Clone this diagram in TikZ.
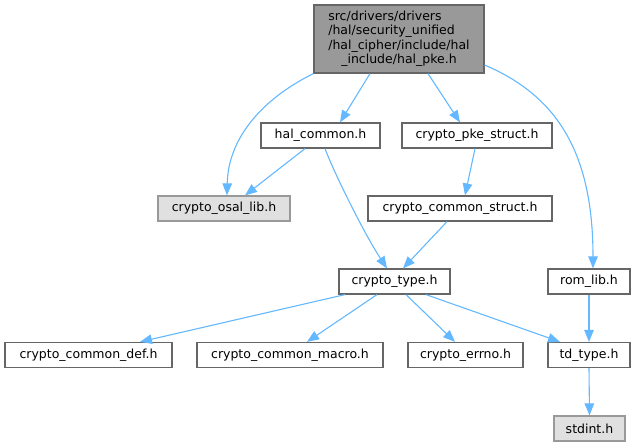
\documentclass[tikz,border=0pt]{standalone}
\usepackage{fontspec}
\setmainfont{DejaVu Sans}
\usetikzlibrary{arrows.meta}
\definecolor{edgeblue}{HTML}{63B8FF}
\definecolor{boxborder}{HTML}{666666}
\definecolor{topfill}{HTML}{999999}
\definecolor{grayfill}{HTML}{E0E0E0}
\definecolor{grayborder}{HTML}{999999}
\begin{document}
\begin{tikzpicture}[x=1pt,y=-1pt,
  filebox/.style={draw=boxborder,fill=white,line width=1.2pt,inner sep=0pt,
    font=\fontsize{12.5}{14.5}\selectfont,anchor=center},
  extbox/.style={filebox,draw=grayborder,fill=grayfill},
  topbox/.style={filebox,fill=topfill},
  dep/.style={draw=edgeblue,line width=1.1pt,-{Triangle[length=12pt,width=9.5pt]}}]
\useasboundingbox (0,0) rectangle (637,447);

\node[topbox,minimum width=170pt,minimum height=68pt] (top) at (399,39)
  {\begin{tabular}{@{}l@{}}src/drivers/drivers\\/hal/security\_unified\\/hal\_cipher/include/hal\\\multicolumn{1}{@{}c@{}}{\_include/hal\_pke.h}\end{tabular}};

\node[filebox,minimum width=119pt,minimum height=25pt] (hal) at (320.5,135.5) {hal\_common.h};
\node[filebox,minimum width=150pt,minimum height=25pt] (pke) at (477,135.5) {crypto\_pke\_struct.h};
\node[extbox,minimum width=132pt,minimum height=25pt] (osal) at (224,208.5) {crypto\_osal\_lib.h};
\node[filebox,minimum width=184pt,minimum height=25pt] (cstruct) at (460,208.5) {crypto\_common\_struct.h};
\node[filebox,minimum width=111pt,minimum height=25pt] (type) at (394.5,281.5) {crypto\_type.h};
\node[filebox,minimum width=82pt,minimum height=25pt] (rom) at (589,281.5) {rom\_lib.h};
\node[filebox,minimum width=167pt,minimum height=25pt] (def) at (88.5,355) {crypto\_common\_def.h};
\node[filebox,minimum width=186pt,minimum height=25pt] (macro) at (290,355) {crypto\_common\_macro.h};
\node[filebox,minimum width=115pt,minimum height=25pt] (errno) at (465.5,355) {crypto\_errno.h};
\node[filebox,minimum width=82pt,minimum height=25pt] (td) at (589,355) {td\_type.h};
\node[extbox,minimum width=71pt,minimum height=25pt] (stdint) at (589.5,428.5) {stdint.h};

\draw[dep] (top.south west) .. controls (260,100) and (228,140) .. ([xshift=3pt]osal.north);
\draw[dep] ([xshift=-29pt]top.south) -- ([xshift=19.5pt]hal.north);
\draw[dep] ([xshift=29pt]top.south) -- ([xshift=-17pt]pke.north);
\draw[dep] ([yshift=-26pt]top.east) .. controls (555,95) and (593,150) .. ([xshift=4pt]rom.north);
\draw[dep] ([xshift=-15.5pt]hal.south) -- ([xshift=21pt]osal.north);
\draw[dep] ([xshift=4.5pt]hal.south) .. controls (335,175) and (365,235) .. ([xshift=-7.5pt]type.north);
\draw[dep] ([xshift=-2pt]pke.south) -- ([xshift=5pt]cstruct.north);
\draw[dep] ([xshift=-13pt]cstruct.south) -- ([xshift=8.5pt]type.north);
\draw[dep] ([xshift=-49.5pt]type.south) -- ([xshift=51.5pt]def.north);
\draw[dep] ([xshift=-17.5pt]type.south) -- ([xshift=17pt]macro.north);
\draw[dep] ([xshift=11.5pt]type.south) -- ([xshift=-10.5pt]errno.north);
\draw[dep] ([xshift=31.5pt]type.south) -- ([xshift=-29pt]td.north);
\draw[dep] (rom.south) -- (td.north);
\draw[dep] (td.south) -- (stdint.north);
\end{tikzpicture}
\end{document}
